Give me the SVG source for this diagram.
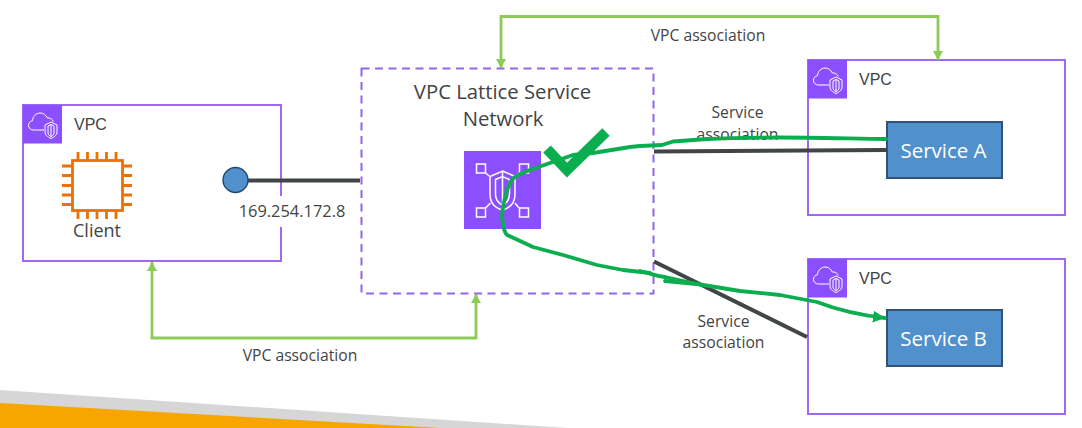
<svg xmlns="http://www.w3.org/2000/svg" xmlns:xlink="http://www.w3.org/1999/xlink" width="1082" height="428" viewBox="0 0 1082 428">
<style>
text{font-family:"Open Sans","Noto Sans","Liberation Sans",sans-serif;fill:#3f4445;text-anchor:middle}
.vpc{fill:#fff;stroke:#a066f5;stroke-width:2}
.vt{font-family:"Liberation Sans",Arial,sans-serif;font-size:16px;text-anchor:start}
.lb{font-size:15.700px}
.svc{fill:#5091cd;stroke:#2f5276;stroke-width:2}
.st{fill:#fff;font-size:20.500px;font-weight:500}
.green{fill:none;stroke:#8ccb57;stroke-width:2.800}
.dark{fill:none;stroke:#414546;stroke-width:4}
.draw{fill:none;stroke:#0bae4f;stroke-width:3.800;stroke-linecap:round;stroke-linejoin:round}
.ic{fill:none;stroke:#fff;stroke-width:1}
.ic2{fill:none;stroke:#fff;stroke-width:1.500}
.pin{fill:none;stroke:#ed7100;stroke-width:2.800}
</style>
<defs>
<marker id="ga" markerUnits="userSpaceOnUse" markerWidth="12" markerHeight="12" refX="9" refY="5" orient="auto-start-reverse"><path d="M0 0L9 5L0 10Z" fill="#8ccb57"/></marker>
<marker id="da" markerUnits="userSpaceOnUse" markerWidth="14" markerHeight="14" refX="12" refY="6" orient="auto"><path d="M0 0L12 6L0 12Z" fill="#0bae4f"/></marker>
<g id="vpcicon">
<rect width="39" height="38.500" fill="#8c4fff"/>
<path class="ic" d="M21 25H10.500C7.500 25 5.500 23 5.500 20.300C5.500 17.800 7.300 16 9.500 15.700C9.800 11.500 13 8 17 8C20.500 8 23 10 24.300 13C26.500 12.500 29.500 14 30.300 16.500"/>
<path class="ic" d="M22 20L28 17L34 20V27C34 30 31.500 32 28 33.500C24.500 32 22 30 22 27Z"/>
<path class="ic" d="M25 21V28C25 29.500 26 30.500 28 31.500C30 30.500 31 29.500 31 28V21L28 19.500ZM28 19.500V31.500"/>
</g>
</defs>
<g id="background">
<path d="M0 390L567 428H0Z" fill="#d6d6d6"/>
<path d="M0 403L441 428H0Z" fill="#f7a600"/>
</g>
<g id="vpc-client">
<rect class="vpc" x="23" y="105" width="258" height="156"/>
<use xlink:href="#vpcicon" href="#vpcicon" x="23" y="105"/>
<text class="vt" x="74" y="130">VPC</text>
</g>
<g id="client">
<rect x="72.500" y="160.500" width="50" height="50" fill="#fff" stroke="#ed7100" stroke-width="2.800"/>
<path class="pin" d="M78 152V160M87.500 152V160M97 152V160M106.500 152V160M116 152V160M78 211V219M87.500 211V219M97 211V219M106.500 211V219M116 211V219M62 166H72M62 175.500H72M62 185.500H72M62 195H72M62 204.500H72M123 166H132M123 175.500H132M123 185.500H132M123 195H132M123 204.500H132"/>
<text x="97" y="237" font-size="18">Client</text>
</g>
<g id="lattice-network">
<rect x="361.500" y="68.500" width="292" height="225" fill="#fff" stroke="#9166ea" stroke-width="2" stroke-dasharray="8 5.500"/>
<text x="502.500" y="99" font-size="20.300">VPC Lattice Service</text>
<text x="503" y="126" font-size="20.300">Network</text>
<rect x="464" y="151" width="77" height="78" fill="#8c4fff"/>
<path class="ic2" d="M502.500 171L515 176.500V194C515 203 510 208 502.500 210C495 208 490 203 490 194V176.500ZM502.500 171V210M495.500 179.500L502.500 176.500L509.500 179.500V194C509.500 200 507 203 502.500 205C498 203 495.500 200 495.500 194ZM485.500 173L490.500 177M519 173L515 177M485.500 208L490.500 203M519 208L515 203"/>
<path class="ic2" d="M476.500 164h9v9h-9zM519.500 164h9v9h-9zM476.500 208h9v9h-9zM519.500 208h9v9h-9z"/>
</g>
<g id="vpc-a">
<rect class="vpc" x="808" y="60" width="257" height="155"/>
<use xlink:href="#vpcicon" href="#vpcicon" x="808" y="60"/>
<text class="vt" x="859" y="85">VPC</text>
</g>
<g id="vpc-b">
<rect class="vpc" x="808" y="259" width="257" height="155"/>
<use xlink:href="#vpcicon" href="#vpcicon" x="808" y="259"/>
<text class="vt" x="859" y="284">VPC</text>
</g>
<g id="service-a">
<rect class="svc" x="887" y="122" width="115" height="56"/>
<text class="st" x="943.500" y="157.500">Service A</text>
</g>
<g id="service-b">
<rect class="svc" x="887" y="310" width="115" height="56"/>
<text class="st" x="943.500" y="345.500">Service B</text>
</g>
<g id="connectors">
<path class="dark" d="M247 180.500H360"/>
<path class="dark" d="M654 151.500L887 150"/>
<path class="dark" d="M654 261.500L807 337"/>
<path class="green" marker-start="url(#ga)" marker-end="url(#ga)" d="M501 68V16.500H938V60"/>
<path class="green" marker-start="url(#ga)" marker-end="url(#ga)" d="M152 262V338H476V294"/>
</g>
<g id="labels">
<rect x="240" y="196" width="104" height="31" fill="#fff"/>
<text x="292" y="217" font-size="16.400">169.254.172.8</text>
<text class="lb" x="708" y="41">VPC association</text>
<text class="lb" x="300" y="361">VPC association</text>
<text class="lb" x="737.500" y="118">Service</text>
<text class="lb" x="737.500" y="139.500">association</text>
<text class="lb" x="723.500" y="327">Service</text>
<text class="lb" x="723.500" y="348">association</text>
</g>
<g id="ip-endpoint">
<circle cx="235.500" cy="180" r="12.500" fill="#5091cd" stroke="#24476b" stroke-width="1.400"/>
</g>
<g id="annotation">
<path d="M547 149L567 170L606 132" fill="none" stroke="#0bae4f" stroke-width="10.500"/>
<path class="draw" d="M886 139C850 138.500 810 137.500 780 137.500C745 137.500 725 138 707 139L673 141.500L662 145L640 146L630 147L593 153L573 155L550 163L530 170C520 174 513 176 510 183C506 192 503 205 502 215C502 222 504 232 507 235L533 247L563 255L597 265L623 270L650 273"/>
<path class="draw" marker-end="url(#da)" d="M640 271C650 273 655 276 665 277L697 284L740 291L780 295L817 302C830 307 850 314 885 318"/>
<path class="draw" d="M665 281L697 284"/>
</g>
</svg>
